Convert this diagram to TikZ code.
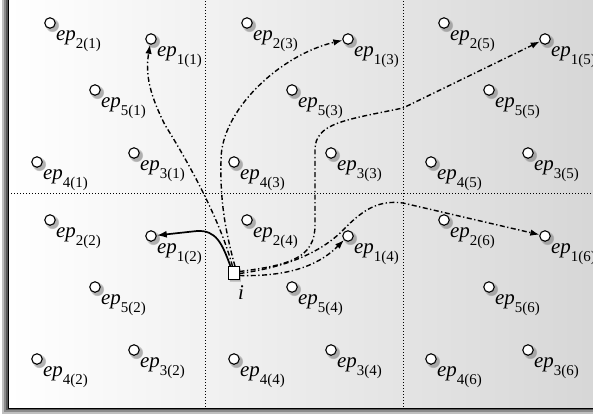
\documentclass[tikz,border=0pt]{standalone}
\usepackage{fontspec}
\setmainfont{Liberation Serif}
\usetikzlibrary{arrows.meta,shadows,shapes.geometric}
\newcommand{\eplab}[2]{{\itshape ep}\raisebox{-8.5bp}{\fontsize{15}{17}\selectfont #1(#2)}}
\begin{document}
\begin{tikzpicture}[x=1bp,y=-1bp,
  ept/.style={circle,draw,fill=white,line width=1.1bp,minimum size=10.5bp,inner sep=0pt,
    circular drop shadow={shadow xshift=1.8bp,shadow yshift=-1.8bp,opacity=0.6,shadow scale=1.3}},
  lab/.style={anchor=base west,inner sep=0pt,font=\fontsize{21}{23}\selectfont},
  gridline/.style={line width=0.7bp,dash pattern=on 1bp off 2bp},
  dd/.style={line width=1.4bp,dash pattern=on 5bp off 2.5bp on 1.3bp off 2.5bp,-{Latex[length=9bp,width=6.5bp]}},
  sol/.style={line width=1.7bp,-{Latex[length=10bp,width=7bp]}}]
\useasboundingbox (0,0) rectangle (593,416);
% frame with shadow
\fill[black!25] (2,-10) rectangle (600,414);
\fill[black!45] (4,-10) rectangle (600,412);
\fill[black!65] (6,-10) rectangle (600,410);
\shade[left color=white,right color=black!16] (8,-10) rectangle (600,408);
\draw[line width=1bp] (8,-10) -- (8,408) -- (600,408);
% grid
\draw[gridline] (205,-5) -- (205,408);
\draw[gridline] (403,-5) -- (403,408);
\draw[gridline] (8,193) -- (600,193);
% endpoints
\foreach \c/\dx in {0/0,1/197,2/394}{
  \foreach \r/\dy in {1/0,2/197}{
    \pgfmathtruncatemacro\reg{2*\c+\r}
    \foreach \k/\x/\y in {1/151/39,2/50/23,3/134/153,4/37/162,5/95/90}{
      \node[ept] (e\k\reg) at (\x+\dx,\y+\dy) {};
      \node[lab] (l\k\reg) at (\x+\dx+6,\y+\dy+17) {\eplab{\k}{\reg}};
    }
  }
}
% node i
\node[cylinder,shape border rotate=90,draw,fill=white,line width=0.9bp,minimum height=13bp,minimum width=11bp,inner sep=0pt,aspect=0.7,
  drop shadow={shadow xshift=1.8bp,shadow yshift=-1.8bp,opacity=0.5}] (i) at (233.5,273.5) {};
\node[font=\fontsize{21}{23}\selectfont\itshape,inner sep=0pt] (li) at (241,293) {i};
% connectors
\draw[sol] ([xshift=-3bp]i.north) .. controls (222,243) and (216,230) .. (197,231) -- (e12);
\draw[dd] ([xshift=-1bp]i.north) .. controls (220,220) and (190,165) .. (165,125) .. controls (150,95) and (145,75) .. (e11);
\draw[dd] ([xshift=1.5bp]i.north) .. controls (225,230) and (220,200) .. (221,160) .. controls (221,110) and (280,55) .. (e13);
\draw[dd] ([yshift=2bp]i.east) .. controls (290,265) and (315,258) .. (315,225) -- (315,150) .. controls (315,123) and (345,120) .. (403,108) -- (e15);
\draw[dd] (i.east) .. controls (280,268) and (320,255) .. (345,228) .. controls (365,208) and (380,200) .. (403,203) -- (e16);
\draw[dd] ([yshift=-2bp]i.east) .. controls (295,277) and (322,262) .. (e14);
\end{tikzpicture}
\end{document}
